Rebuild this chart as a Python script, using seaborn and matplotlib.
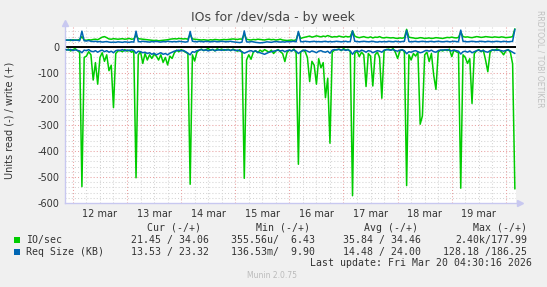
import numpy as np
import pandas as pd
import matplotlib
matplotlib.use("Agg")
import matplotlib.pyplot as plt
import seaborn as sns
from matplotlib.patches import Rectangle

# ---------------- data (hourly samples) ----------------
start = "2026-03-11 21:00"
n_points = 200

io_read = [
    -12, -8, -15, -10, -6, -14, -20, -537, -40, -35, -18, -30, -127, -60, -143, -40, -22, -55, -30, -91, -70, -233, -25, -15,
    -14, -18, -10, -16, -12, -20, -15, -503, -30, -18, -63, -25, -50, -30, -44, -28, -35, -50, -30, -59, -40, -69, -35, -44,
    -22, -12, -18, -10, -15, -20, -25, -528, -30, -54, -20, -12, -8, -14, -10, -6, -12, -9, -15, -7, -11, -8, -13, -10,
    -9, -14, -8, -12, -16, -10, -20, -505, -50, -30, -47, -20, -14, -22, -12, -18, -10, -15, -20, -12, -25, -15, -10, -18,
    -25, -56, -20, -12, -15, -8, -22, -451, -20, -12, -18, -40, -133, -55, -70, -143, -45, -80, -60, -195, -120, -370, -20, -12,
    -10, -8, -14, -6, -12, -9, -18, -572, -25, -15, -37, -20, -30, -152, -25, -35, -150, -30, -20, -40, -197, -15, -10, -8,
    -12, -6, -20, -44, -15, -10, -18, -533, -30, -50, -25, -35, -20, -297, -265, -30, -20, -56, -25, -108, -163, -20, -12, -15,
    -10, -14, -8, -37, -12, -18, -22, -543, -30, -40, -63, -45, -217, -25, -15, -10, -18, -12, -50, -95, -20, -10, -14, -8,
    -12, -18, -30, -15, -10, -20, -65, -546,
]
io_write = [
    26, 27, 25, 28, 26, 27, 29, 40, 27, 26, 28, 27, 29, 30, 28, 33, 38, 40, 36, 31, 30, 32, 31, 30,
    31, 32, 30, 31, 33, 30, 31, 45, 32, 31, 30, 29, 28, 27, 26, 25, 26, 24, 25, 26, 27, 28, 30, 31,
    32, 31, 33, 32, 31, 32, 30, 48, 31, 30, 29, 28, 27, 28, 27, 26, 28, 27, 29, 28, 27, 28, 29, 28,
    29, 30, 31, 30, 29, 31, 30, 50, 30, 28, 27, 29, 28, 30, 29, 28, 27, 29, 30, 28, 29, 27, 28, 30,
    27, 26, 25, 26, 27, 25, 28, 55, 33, 36, 38, 40, 42, 38, 40, 43, 41, 39, 42, 40, 44, 41, 38, 40,
    39, 42, 40, 38, 41, 39, 40, 62, 42, 38, 36, 38, 40, 37, 36, 39, 35, 38, 37, 40, 36, 35, 37, 36,
    35, 36, 34, 33, 35, 34, 36, 68, 38, 36, 35, 33, 34, 36, 35, 33, 34, 35, 33, 34, 36, 35, 34, 33,
    35, 37, 36, 38, 36, 35, 37, 58, 40, 38, 39, 37, 36, 38, 40, 39, 37, 38, 40, 39, 38, 37, 39, 38,
    37, 39, 38, 36, 37, 38, 40, 70,
]
req_read = [
    -10, -12, -9, -14, -11, -13, -15, -22, -12, -14, -10, -16, -18, -14, -20, -15, -12, -18, -14, -20, -16, -22, -14, -12,
    -13, -10, -15, -12, -14, -11, -13, -24, -16, -18, -22, -20, -25, -22, -28, -24, -30, -26, -22, -28, -25, -30, -24, -20,
    -16, -14, -12, -15, -13, -18, -24, -30, -18, -20, -14, -12, -10, -13, -11, -15, -12, -10, -14, -12, -11, -13, -10, -12,
    -11, -13, -10, -14, -12, -15, -18, -24, -20, -16, -14, -18, -15, -20, -22, -25, -28, -24, -20, -18, -16, -14, -12, -15,
    -13, -18, -14, -12, -15, -11, -16, -25, -18, -14, -12, -16, -20, -15, -18, -22, -16, -14, -18, -20, -16, -24, -12, -10,
    -11, -9, -12, -10, -13, -11, -15, -28, -16, -14, -18, -12, -15, -20, -14, -16, -22, -18, -14, -16, -20, -12, -10, -11,
    -12, -10, -14, -16, -12, -11, -14, -26, -18, -20, -16, -14, -18, -22, -20, -15, -13, -16, -12, -18, -20, -14, -12, -11,
    -12, -10, -13, -15, -12, -14, -16, -27, -18, -16, -20, -15, -22, -18, -14, -12, -16, -13, -18, -20, -14, -12, -11, -13,
    -12, -14, -16, -13, -11, -15, -20, -25,
]
req_write = [
    27, 26, 28, 25, 27, 26, 24, 61, 24, 23, 25, 22, 21, 22, 20, 21, 19, 20, 21, 19, 18, 19, 18, 20,
    19, 18, 20, 19, 18, 20, 19, 61, 21, 20, 22, 21, 20, 19, 21, 20, 22, 20, 19, 21, 20, 22, 21, 20,
    21, 20, 22, 21, 20, 19, 21, 60, 22, 21, 20, 22, 21, 20, 22, 21, 20, 21, 22, 20, 21, 22, 21, 20,
    21, 22, 20, 19, 18, 17, 19, 62, 20, 19, 21, 20, 18, 17, 16, 17, 18, 20, 19, 18, 20, 21, 20, 19,
    20, 19, 21, 20, 21, 22, 20, 60, 21, 20, 22, 21, 20, 21, 22, 20, 21, 20, 21, 22, 20, 21, 20, 21,
    22, 21, 20, 21, 22, 20, 21, 62, 22, 21, 20, 21, 22, 21, 20, 21, 22, 20, 19, 21, 20, 21, 20, 22,
    21, 20, 22, 21, 20, 21, 22, 64, 21, 20, 21, 22, 20, 21, 22, 21, 20, 21, 22, 20, 21, 22, 21, 20,
    21, 22, 20, 21, 22, 21, 20, 65, 22, 21, 20, 21, 22, 21, 20, 21, 22, 21, 20, 22, 21, 20, 21, 22,
    21, 20, 22, 21, 20, 21, 22, 68,
]

day_labels = ["12 mar", "13 mar", "14 mar", "15 mar", "16 mar", "17 mar", "18 mar", "19 mar"]
y_ticks = [0, -100, -200, -300, -400, -500, -600]

legend_header = ["Cur (-/+)", "Min (-/+)", "Avg (-/+)", "Max (-/+)"]
legend_names = ["IO/sec", "Req Size (KB)"]
legend_rows = [
    ["21.45 / 34.06", "355.56u/  6.43", "35.84 / 34.46", "2.40k/177.99"],
    ["13.53 / 23.32", "136.53m/  9.90", "14.48 / 24.00", "128.18 /186.25"],
]
last_update = "Last update: Fri Mar 20 04:30:16 2026"

GREEN = "#00CC00"
BLUE = "#0066B3"

# ---------------- figure ----------------
sns.set_style("white")
plt.rcParams["font.family"] = ["DejaVu Sans"]
plt.rcParams["axes.unicode_minus"] = False

W, H = 547, 287
fig = plt.figure(figsize=(W / 100, H / 100), dpi=100, facecolor="#F0F0F0")

def fx(px):
    return px / W

def fy(py):
    return 1 - py / H

L, R, T, B = 65, 516, 27, 203
ax = fig.add_axes([fx(L), fy(B), fx(R) - fx(L), fy(T) - fy(B)])
ax.set_facecolor("white")

times = pd.date_range(start, periods=n_points, freq="h")
df = pd.DataFrame({"time": times, "io_read": io_read, "io_write": io_write,
                   "req_read": req_read, "req_write": req_write})

t0 = pd.Timestamp("2026-03-11 20:30")
t1 = pd.Timestamp("2026-03-20 04:30")

# grid
for v in range(-600, 78, 20):
    if v % 100 == 0:
        continue
    ax.axhline(v, color="#D4D4D4", lw=0.75, ls=(0, (1, 2)), zorder=0)
for v in range(-500, 1, 100):
    ax.axhline(v, color="#E8A0A0", lw=0.75, ls=(0, (1, 2)), zorder=0.5)
for t in pd.date_range("2026-03-11 00:00", "2026-03-20 06:00", freq="6h"):
    if t < t0 or t > t1:
        continue
    if t.hour == 0:
        ax.axvline(t, color="#E8A0A0", lw=0.75, ls=(0, (1, 2)), zorder=0.5)
    else:
        ax.axvline(t, color="#D4D4D4", lw=0.75, ls=(0, (1, 2)), zorder=0)

ax.axhline(0, color="black", lw=1.4, zorder=1)

sns.lineplot(data=df, x="time", y="io_read", ax=ax, color=GREEN, lw=1.1, errorbar=None, zorder=2)
sns.lineplot(data=df, x="time", y="io_write", ax=ax, color=GREEN, lw=1.1, errorbar=None, zorder=2)
sns.lineplot(data=df, x="time", y="req_read", ax=ax, color=BLUE, lw=1.1, errorbar=None, zorder=3)
sns.lineplot(data=df, x="time", y="req_write", ax=ax, color=BLUE, lw=1.1, errorbar=None, zorder=3)

ax.set_xlim(t0, t1)
ax.set_ylim(-600, 77)

ax.set_yticks(y_ticks)
ax.set_yticklabels([str(v) for v in y_ticks])
noon = pd.date_range("2026-03-12 12:00", periods=len(day_labels), freq="D")
ax.set_xticks(noon)
ax.set_xticklabels(day_labels)
ax.tick_params(axis="both", length=0, labelsize=7, colors="#333333", pad=4)
ax.set_xlabel("")
ax.set_ylabel("")

for s in ["top", "right"]:
    ax.spines[s].set_visible(False)
for s in ["left", "bottom"]:
    ax.spines[s].set_color("#C8C8F0")
    ax.spines[s].set_linewidth(1.0)

# axis arrows
ax.plot([1.008], [0], marker=">", ms=4, color="#C8C8F0", transform=ax.transAxes, clip_on=False)
ax.plot([0], [1.02], marker="^", ms=4, color="#C8C8F0", transform=ax.transAxes, clip_on=False)

# titles / labels
fig.text(fx(273), fy(18), "IOs for /dev/sda - by week", ha="center", va="center",
         fontsize=9, color="#444444")
fig.text(fx(10), fy(120), "Units read (-) / write (+)", ha="center", va="center",
         rotation=90, fontsize=7, color="#333333")
fig.text(fx(540), fy(10), "RRDTOOL / TOBI OETIKER", ha="center", va="top",
         rotation=270, fontsize=5.5, color="#C0C0C0")

# legend
mono = "DejaVu Sans Mono"
hdr_x = [146.7, 256, 364.3, 472.7]
for x, txt in zip(hdr_x, legend_header):
    fig.text(fx(x), fy(228), txt, ha="left", va="center", fontsize=7.1, family=mono, color="#333333")

row_y = [240, 251.7]
col_end = [209, 315, 421, 527]
colors = [GREEN, BLUE]
for r, (name, vals) in enumerate(zip(legend_names, legend_rows)):
    fig.patches.append(Rectangle((fx(14), fy(row_y[r] + 3)), fx(6), 6 / H,
                                 transform=fig.transFigure, facecolor=colors[r], edgecolor="none"))
    fig.text(fx(26), fy(row_y[r]), name, ha="left", va="center", fontsize=7.1, family=mono, color="#333333")
    for x, v in zip(col_end, vals):
        fig.text(fx(x), fy(row_y[r]), v, ha="right", va="center", fontsize=7.1, family=mono, color="#333333")

fig.text(fx(532), fy(263.3), last_update, ha="right", va="center", fontsize=7.1, family=mono, color="#333333")
fig.text(fx(272), fy(276), "Munin 2.0.75", ha="center", va="center", fontsize=5.5, color="#BBBBBB")

fig.savefig("out.png", dpi=100, facecolor=fig.get_facecolor())
